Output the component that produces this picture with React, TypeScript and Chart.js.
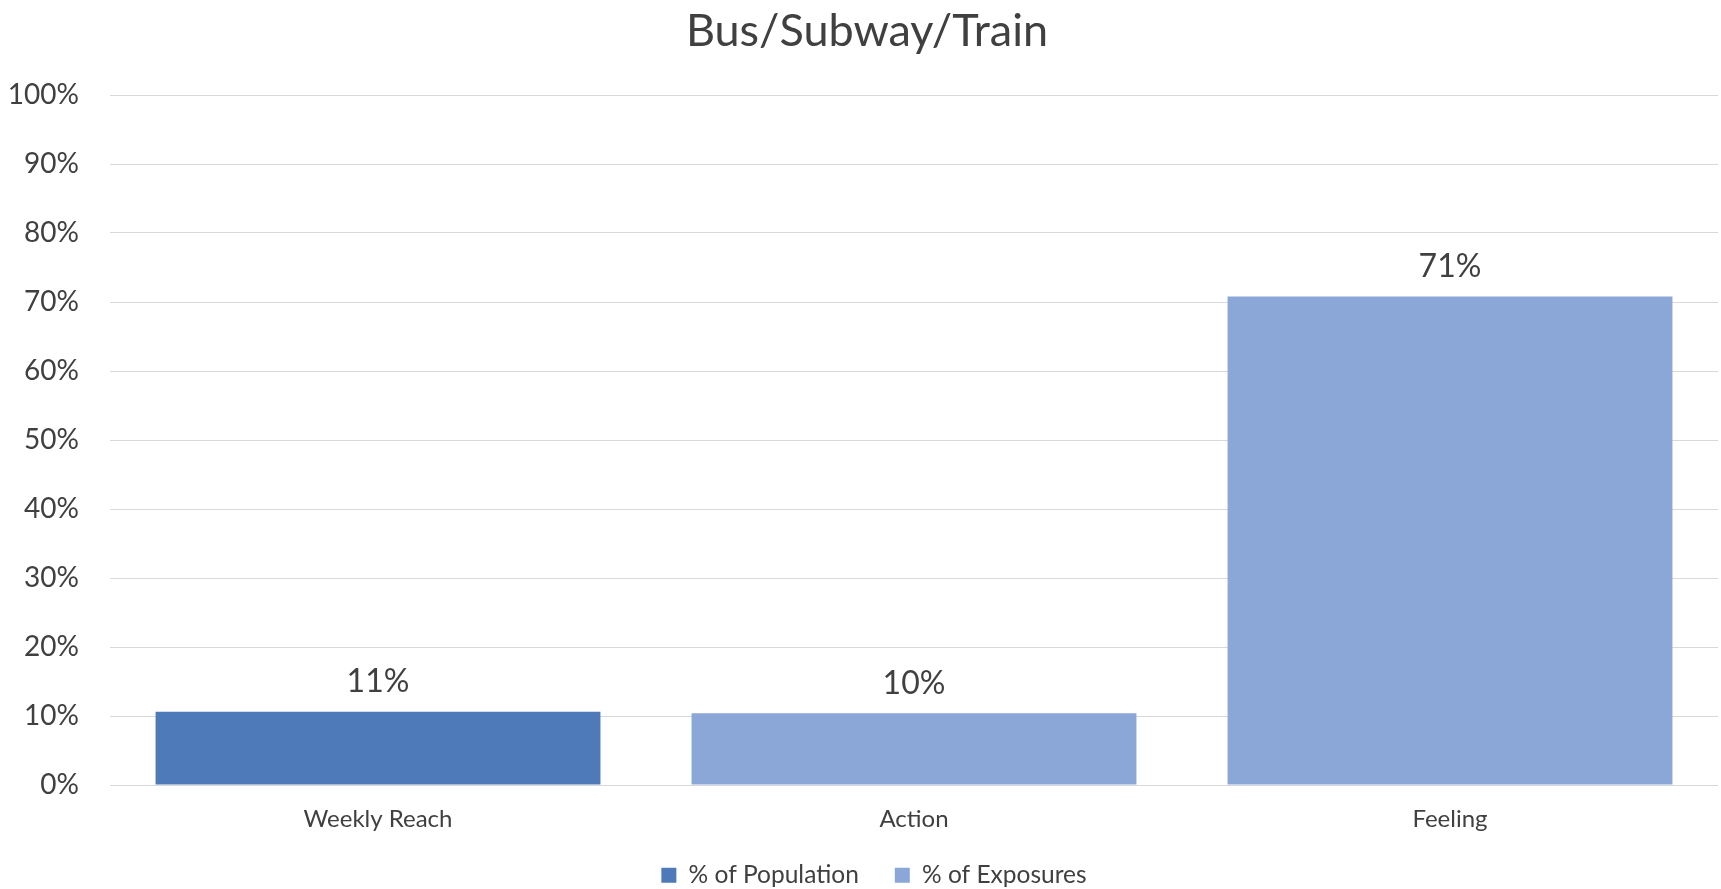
import React, { useEffect, useRef } from "react";
import { Chart, registerables } from "chart.js";

Chart.register(...registerables);

const categories = ["Weekly Reach", "Action", "Feeling"];
const populationValues = [0.106, null, null];
const exposureValues = [null, 0.104, 0.708];
const seriesNames = ["% of Population", "% of Exposures"];
const chartTitle = "Bus/Subway/Train";

const TEXT = "#404040";
const FONT = "Lato, 'Open Sans', sans-serif";

const dataLabelPlugin = {
  id: "dataLabels",
  afterDatasetsDraw(chart: any) {
    const ctx = chart.ctx;
    ctx.save();
    ctx.fillStyle = TEXT;
    ctx.font = `32px ${FONT}`;
    ctx.textAlign = "center";
    ctx.textBaseline = "middle";
    chart.data.datasets.forEach((ds: any, di: number) => {
      const meta = chart.getDatasetMeta(di);
      meta.data.forEach((el: any, i: number) => {
        const v = ds.data[i];
        if (v === null || v === undefined) return;
        ctx.fillText(Math.round(v * 100) + "%", el.x, el.y - 30);
      });
    });
    ctx.restore();
  },
};

const shiftPlugin = {
  id: "shiftBlocks",
  afterInit(chart: any) {
    const legend = chart.legend;
    if (legend) {
      const origFit = legend.fit;
      legend.fit = function () {
        origFit.call(this);
        this.height = 50;
      };
      const origDraw = legend.draw;
      legend.draw = function () {
        const ctx = this.ctx;
        const savedTop = this.top;
        this.top = savedTop - 12;
        ctx.save();
        ctx.translate(15, 0);
        origDraw.call(this);
        ctx.restore();
        this.top = savedTop;
      };
    }
    const title = chart.titleBlock;
    if (title) {
      const origDraw = title.draw;
      title.draw = function () {
        const ctx = this.ctx;
        ctx.save();
        ctx.translate(8, 0);
        origDraw.call(this);
        ctx.restore();
      };
    }
  },
};

export default function App() {
  const ref = useRef<HTMLCanvasElement>(null);
  useEffect(() => {
    if (!ref.current) return;
    const chart = new Chart(ref.current, {
      type: "bar",
      data: {
        labels: categories,
        datasets: [
          {
            label: seriesNames[0],
            data: populationValues,
            backgroundColor: "#4F7AB9",
            barPercentage: 0.83,
            categoryPercentage: 1,
          },
          {
            label: seriesNames[1],
            data: exposureValues,
            backgroundColor: "#8AA7D8",
            barPercentage: 0.83,
            categoryPercentage: 1,
          },
        ],
      },
      plugins: [dataLabelPlugin, shiftPlugin],
      options: {
        animation: false,
        responsive: false,
        maintainAspectRatio: false,
        layout: { padding: { left: 0, right: 3, top: 0, bottom: 0 } },
        plugins: {
          title: {
            display: true,
            text: chartTitle,
            color: TEXT,
            font: { family: FONT, size: 45, weight: "normal" },
            padding: { top: 4, bottom: 37 },
          },
          legend: {
            position: "bottom",
            labels: {
              color: TEXT,
              font: { family: FONT, size: 24.5 },
              boxWidth: 15,
              boxHeight: 15,
              padding: 36,
            },
          },
          tooltip: { enabled: false },
        },
        scales: {
          x: {
            stacked: true,
            grid: { display: false, drawTicks: false },
            border: { display: false },
            ticks: {
              color: TEXT,
              font: { family: FONT, size: 24 },
              padding: 20,
            },
            afterFit(scale: any) {
              scale.height = 54;
            },
          },
          y: {
            stacked: true,
            min: 0,
            max: 1,
            grid: { color: "#D9D9D9", lineWidth: 1, drawTicks: false },
            border: { display: false },
            ticks: {
              stepSize: 0.1,
              color: TEXT,
              font: { family: FONT, size: 28 },
              padding: 31,
              callback: (v: any) => Math.round(Number(v) * 100) + "%",
            },
            afterFit(scale: any) {
              scale.width = 110;
            },
          },
        },
      },
    } as any);
    return () => chart.destroy();
  }, []);
  return (
    <div style={{ position: "fixed", left: 0, top: 0, width: 1721, height: 889, background: "#fff" }}>
      <canvas ref={ref} width={1721} height={889} style={{ display: "block" }} />
    </div>
  );
}
